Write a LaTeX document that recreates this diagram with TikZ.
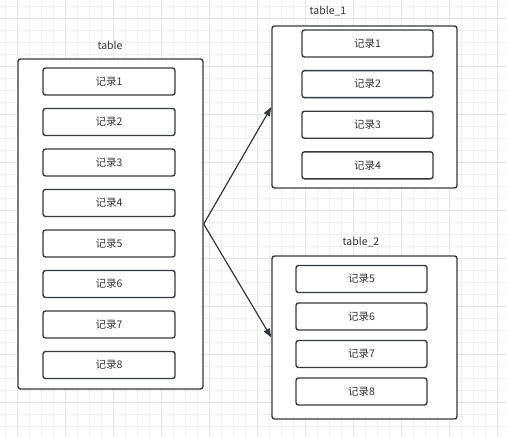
\documentclass[tikz,border=0pt]{standalone}
\usepackage{fontspec}
\setmainfont{Noto Sans CJK SC}
\usetikzlibrary{arrows.meta}
\definecolor{gridminor}{HTML}{F0F0F0}
\definecolor{gridmajor}{HTML}{E6E6E6}
\definecolor{edge}{HTML}{36393D}
\definecolor{txt}{HTML}{333333}
\begin{document}
\begin{tikzpicture}[x=1pt,y=-1pt,
  outerbox/.style={draw=edge,line width=1.4pt,rounded corners=2.5pt,fill=white,minimum width=185pt,inner sep=0pt},
  recbox/.style={draw=edge,line width=1.4pt,rounded corners=2.5pt,fill=white,minimum width=131pt,minimum height=27pt,inner sep=0pt,font=\fontsize{10.5}{12}\selectfont,text=txt},
  tlabel/.style={font=\fontsize{10.5}{12}\selectfont,text=txt,inner sep=0pt},
  link/.style={draw=edge,line width=1.2pt,-{Triangle[length=9pt,width=6.5pt]}}]
\useasboundingbox (0,0) rectangle (507,437);
\fill[white] (0,0) rectangle (507,437);
% grid
\foreach \i in {0,...,41} {\draw[gridminor,line width=0.8pt] (5.5+12*\i,0) -- (5.5+12*\i,437);}
\foreach \i in {0,...,36} {\draw[gridminor,line width=0.8pt] (0,6+12*\i) -- (507,6+12*\i);}
\foreach \i in {0,...,10} {\draw[gridmajor,line width=0.9pt] (17.5+48*\i,0) -- (17.5+48*\i,437);}
\foreach \i in {0,...,9} {\draw[gridmajor,line width=0.9pt] (0,18+48*\i) -- (507,18+48*\i);}
% left table
\node[tlabel] (lt) at (110,45) {table};
\node[outerbox,minimum height=330pt] (L) at (110.5,224) {};
\foreach \k in {1,...,8} {
  \node[recbox,minimum width=132pt] (r\k) at (109,{81.5+40.5*(\k-1)}) {记录\k};
}
% right top table
\node[tlabel] (t1l) at (328,11) {table\_1};
\node[outerbox,minimum height=162pt] (T1) at (364.5,107) {};
\foreach \k in {1,...,4} {
  \node[recbox] (a\k) at (367.5,{43.5+40.6*(\k-1)}) {记录\k};
}
% right bottom table
\node[tlabel] (t2l) at (361,242) {table\_2};
\node[outerbox,minimum height=163pt] (T2) at (364.5,337.5) {};
\foreach \k/\n in {1/5,2/6,3/7,4/8} {
  \node[recbox] (b\k) at (361.5,{279+37.5*(\k-1)}) {记录\n};
}
% connectors
\draw[link] (L.east) -- (T1.west);
\draw[link] (L.east) -- (T2.west);
\end{tikzpicture}
\end{document}
